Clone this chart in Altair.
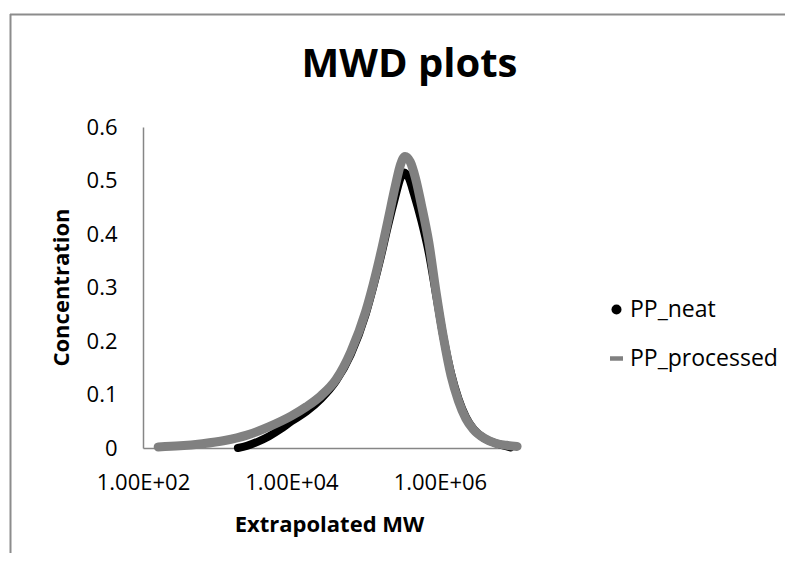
import altair as alt
import pandas as pd

FONT = "Open Sans"

series_names = ["PP_neat", "PP_processed"]
series_colors = ["#000000", "#808080"]
series_shapes = ["circle", "M-1.3,-0.45L1.3,-0.45L1.3,0.45L-1.3,0.45Z"]

neat_mw = [1900, 2500, 3550, 5000, 7080, 10000, 15850, 25120, 39810, 63100,
           100000, 125900, 158500, 199500, 251200, 295100, 331100, 380200,
           446700, 562300, 707900, 891300, 1122000, 1413000, 1778000, 2239000,
           2818000, 3981000, 5623000, 7079000, 8913000]
neat_conc = [0.000, 0.004, 0.012, 0.022, 0.035, 0.050, 0.068, 0.092, 0.125, 0.175,
             0.250, 0.300, 0.355, 0.415, 0.470, 0.505, 0.515, 0.505,
             0.475, 0.425, 0.365, 0.285, 0.205, 0.140, 0.092, 0.058,
             0.036, 0.018, 0.009, 0.005, 0.001]

proc_mw = [160, 316, 631, 1259, 2512, 5012, 10000, 15850, 25120, 39810, 63100,
           100000, 125900, 158500, 199500, 251200, 295100, 338800, 398100,
           467700, 562300, 707900, 891300, 1122000, 1413000, 1778000, 2239000,
           2818000, 3981000, 5623000, 7943000, 10960000]
proc_conc = [0.002, 0.004, 0.008, 0.014, 0.024, 0.040, 0.060, 0.077, 0.098, 0.128, 0.180,
             0.255, 0.305, 0.362, 0.425, 0.490, 0.530, 0.545, 0.535,
             0.505, 0.455, 0.385, 0.290, 0.205, 0.135, 0.088, 0.055,
             0.035, 0.018, 0.009, 0.005, 0.003]

x_tick_values = [100, 10000, 1000000]
y_tick_values = [0, 0.1, 0.2, 0.3, 0.4, 0.5, 0.6]

neat_df = pd.DataFrame({"mw": neat_mw, "conc": neat_conc,
                        "series": series_names[0], "idx": list(range(len(neat_mw)))})
proc_df = pd.DataFrame({"mw": proc_mw, "conc": proc_conc,
                        "series": series_names[1], "idx": list(range(len(proc_mw)))})
legend_df = pd.DataFrame({"series": series_names})

color_scale = alt.Scale(domain=series_names, range=series_colors)
shape_scale = alt.Scale(domain=series_names, range=series_shapes)

x_enc = alt.X(
    "mw:Q",
    scale=alt.Scale(type="log", domain=[100, 1.2e7], nice=False),
    axis=alt.Axis(
        values=x_tick_values,
        labelExpr="'1.00E+' + (round(log(datum.value)/LN10) < 10 ? '0' : '') + round(log(datum.value)/LN10)",
        labelFont=FONT, labelFontSize=22, labelColor="black",
        labelPadding=24, ticks=False, tickSize=0, grid=False,
        domainColor="#868686", domainWidth=1.5,
        title="Extrapolated MW", titleFont=FONT, titleFontSize=22,
        titleFontWeight="bold", titleColor="black",
        titleX=186, titleY=76, titleBaseline="middle", titleAlign="center",
        labelFlush=False, labelOverlap=False,
    ),
)
y_enc = alt.Y(
    "conc:Q",
    scale=alt.Scale(domain=[0, 0.6], nice=False),
    axis=alt.Axis(
        values=y_tick_values,
        labelExpr="datum.value == 0 ? '0' : format(datum.value, '.1f')",
        labelFont=FONT, labelFontSize=22, labelColor="black",
        labelPadding=26, ticks=False, tickSize=0, grid=False,
        domainColor="#868686", domainWidth=1.5,
        title="Concentration", titleFont=FONT, titleFontSize=22,
        titleFontWeight="bold", titleColor="black",
        titleX=-82, titleY=160, titleAngle=-90, titleBaseline="middle",
        titleAlign="center", labelFlush=False, labelOverlap=False,
    ),
)

legend = alt.Legend(
    title=None, orient="none", legendX=462, legendY=171,
    labelFont=FONT, labelFontSize=23, labelColor="black",
    labelOffset=2, rowPadding=25, padding=0,
    symbolOpacity=1, symbolStrokeWidth=0,
)

neat_line = alt.Chart(neat_df).mark_line(
    color=series_colors[0], strokeWidth=8, strokeCap="round", strokeJoin="round",
    interpolate="monotone"
).encode(x=x_enc, y=y_enc, order="idx:Q")

proc_line = alt.Chart(proc_df).mark_line(
    color=series_colors[1], strokeWidth=9, strokeCap="round", strokeJoin="round",
    interpolate="monotone"
).encode(x=x_enc, y=y_enc, order="idx:Q")

# legend-only layer: points placed outside the drawing (off the page)
legend_pts = alt.Chart(legend_df).mark_point(filled=True, opacity=1, size=50).encode(
    x=alt.value(-700), y=alt.value(200),
    color=alt.Color("series:N", scale=color_scale, legend=legend),
    shape=alt.Shape("series:N", scale=shape_scale, legend=legend),
)

border_df = pd.DataFrame({"k": [0]})
top_rule = alt.Chart(border_df).mark_rule(color="#8c8c8c", strokeWidth=2).encode(
    x=alt.value(-133), x2=alt.value(660), y=alt.value(-112.5)
)
left_rule = alt.Chart(border_df).mark_rule(color="#8c8c8c", strokeWidth=2).encode(
    x=alt.value(-132.5), y=alt.value(-113), y2=alt.value(440)
)

chart = alt.layer(top_rule, left_rule, neat_line, proc_line, legend_pts).properties(
    width=377,
    height=321,
    autosize=alt.AutoSizeParams(type="none"),
    padding={"left": 135, "top": 119, "right": 265, "bottom": 105},
    title=alt.TitleParams(
        "MWD plots", font=FONT, fontSize=40, fontWeight="bold", color="black",
        anchor="middle", dx=78, baseline="alphabetic", offset=-104,
    ),
).configure_view(stroke=None)

chart.save("out.html", embed_options={"renderer": "svg", "actions": False})
